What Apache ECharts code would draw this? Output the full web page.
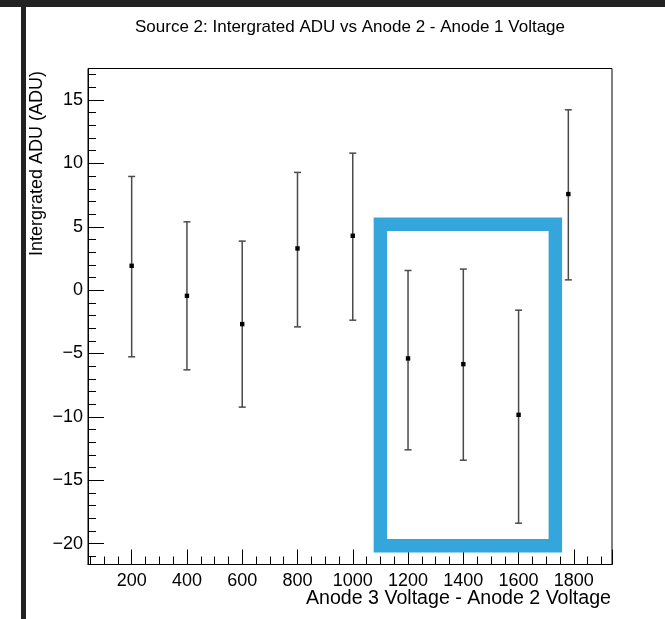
<!DOCTYPE html>
<html>
<head>
<meta charset="utf-8">
<script src="https://cdn.jsdelivr.net/npm/echarts@6/dist/echarts.min.js"></script>
<style>
html,body{margin:0;padding:0;background:#fff;}
#chart{width:665px;height:619px;}
</style>
</head>
<body>
<div id="chart"></div>
<script>
// ---- data ----
const xValues = [200, 400, 600, 800, 1000, 1200, 1400, 1600, 1780];
const yValues = [1.92, -0.45, -2.68, 3.29, 4.29, -5.39, -5.84, -9.84, 7.58];
const yHigh   = [8.97, 5.39, 3.87, 9.29, 10.81, 1.55, 1.66, -1.58, 14.23];
const yLow    = [-5.26, -6.29, -9.23, -2.90, -2.37, -12.60, -13.42, -18.39, 0.81];
// highlighted region (annotation box) in data coordinates
const boxX = [1100, 1733];
const boxY = [-20.18, 5.19];

const titleText = 'Source 2: Intergrated ADU vs Anode 2 - Anode 1 Voltage';
const xName = 'Anode 3 Voltage - Anode 2 Voltage';
const yName = 'Intergrated ADU (ADU)';

const FONT = '"Liberation Sans", Arial, Helvetica, sans-serif';
const minus = v => (v < 0 ? '\u2212' + Math.abs(v) : String(v));

const seriesData = xValues.map((x, i) => [x, yValues[i], yLow[i], yHigh[i]]);

const chart = echarts.init(document.getElementById('chart'), null, {renderer: 'canvas'});

chart.setOption({
  animation: false,
  backgroundColor: '#ffffff',
  title: {
    text: titleText,
    left: 135, top: 19, padding: 0,
    textStyle: {fontFamily: FONT, fontSize: 17, fontWeight: 'normal', color: '#000'}
  },
  grid: {
    left: 88, right: 53, top: 68.5, bottom: 54.5,
    containLabel: false, outerBoundsMode: 'none',
    show: true, borderColor: '#000', borderWidth: 1, backgroundColor: 'transparent'
  },
  xAxis: {
    type: 'value',
    min: 42, max: 1938,
    splitNumber: 9, minInterval: 200, maxInterval: 200,
    axisLine: {show: true, onZero: false, lineStyle: {color: '#000', width: 1}},
    axisTick: {show: true, inside: true, length: 15, lineStyle: {color: '#000', width: 1}},
    minorTick: {show: true, splitNumber: 4, length: 8, lineStyle: {color: '#000', width: 1}},
    axisLabel: {fontFamily: FONT, fontSize: 18, color: '#000', margin: 8, showMinLabel: false, showMaxLabel: false, formatter: minus},
    splitLine: {show: false}, minorSplitLine: {show: false}
  },
  yAxis: {
    type: 'value',
    min: -21.65, max: 17.49,
    splitNumber: 8, minInterval: 5, maxInterval: 5,
    axisLine: {show: true, onZero: false, lineStyle: {color: '#000', width: 1}},
    axisTick: {show: true, inside: true, length: 16, lineStyle: {color: '#000', width: 1}},
    minorTick: {show: true, splitNumber: 5, length: 8, lineStyle: {color: '#000', width: 1}},
    axisLabel: {fontFamily: FONT, fontSize: 18, color: '#000', margin: 5, showMinLabel: false, showMaxLabel: false, formatter: minus},
    splitLine: {show: false}, minorSplitLine: {show: false}
  },
  graphic: [
    {type: 'rect', shape: {x: 0, y: 0, width: 665, height: 7}, style: {fill: '#222'}, silent: true, z: 100},
    {type: 'rect', shape: {x: 21, y: 0, width: 5, height: 619}, style: {fill: '#222'}, silent: true, z: 100},
    {type: 'text', x: 37, y: 71, rotation: Math.PI / 2,
     style: {text: yName, fontFamily: FONT, fontSize: 18, fill: '#000', align: 'right', verticalAlign: 'middle'}},
    {type: 'text', x: 611, y: 599,
     style: {text: xName, fontFamily: FONT, fontSize: 19.6, fill: '#000', align: 'right', verticalAlign: 'middle'}}
  ],
  series: [{
    type: 'custom',
    data: seriesData,
    encode: {x: 0, y: [1, 2, 3]},
    clip: false,
    renderItem: function (params, api) {
      const x = api.value(0);
      const pMid = api.coord([x, api.value(1)]);
      const pLow = api.coord([x, api.value(2)]);
      const pHigh = api.coord([x, api.value(3)]);
      const cap = 3.5;
      const st = {stroke: '#4a4a4a', lineWidth: 1.5};
      return {
        type: 'group',
        children: [
          {type: 'line', shape: {x1: pMid[0], y1: pLow[1], x2: pMid[0], y2: pHigh[1]}, style: st},
          {type: 'line', shape: {x1: pMid[0] - cap, y1: pLow[1], x2: pMid[0] + cap, y2: pLow[1]}, style: st},
          {type: 'line', shape: {x1: pMid[0] - cap, y1: pHigh[1], x2: pMid[0] + cap, y2: pHigh[1]}, style: st},
          {type: 'rect', shape: {x: pMid[0] - 2.2, y: pMid[1] - 2.2, width: 4.4, height: 4.4}, style: {fill: '#000'}}
        ]
      };
    },
    markArea: {
      silent: true,
      itemStyle: {color: 'rgba(0,0,0,0)', borderColor: '#35A6DB', borderWidth: 13.5},
      data: [[{coord: [boxX[0], boxY[1]]}, {coord: [boxX[1], boxY[0]]}]]
    }
  }]
});
</script>
</body>
</html>
